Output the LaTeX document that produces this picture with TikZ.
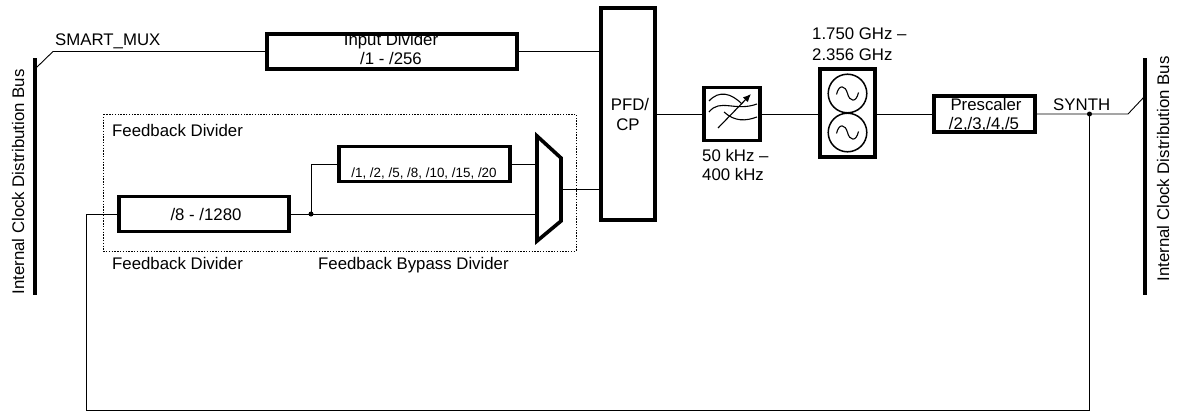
\documentclass[tikz,border=0pt]{standalone}
\usepackage{fontspec}
\setmainfont{Liberation Sans}
\usetikzlibrary{arrows.meta}
\begin{document}
\begin{tikzpicture}[x=1pt,y=-1pt,
 blk/.style={draw, line width=3.6pt, inner sep=0pt},
 wire/.style={line width=0.9pt},
 bus/.style={line width=4pt},
 txt/.style={inner sep=0pt, font=\fontsize{16.8}{20}\selectfont},
 small/.style={inner sep=0pt, font=\fontsize{13.4}{16}\selectfont},
 jdot/.style={circle, fill, inner sep=0pt, minimum size=5pt},
 sym/.style={line width=1.1pt}]
\useasboundingbox (0,0) rectangle (1177,415);

% buses
\coordinate (bLt) at (34.5,58);
\coordinate (bLb) at (34.5,295);
\coordinate (bRt) at (1144.5,58);
\coordinate (bRb) at (1144.5,295);
\draw[bus] (bLt) -- (bLb);
\draw[bus] (bRt) -- (bRb);
\node[txt, rotate=90, anchor=base] (labL) at (24,182) {Internal Clock Distribution Bus};
\node[txt, rotate=90, anchor=base] (labR) at (1169,169) {Internal Clock Distribution Bus};

% blocks
\node[blk, minimum width=250pt, minimum height=35pt] (indiv) at (392,51.5) {};
\node[txt, anchor=base] (indivT1) at (391,45) {Input Divider};
\node[txt, anchor=base] (indivT2) at (391,64) {/1 - /256};

\node[blk, minimum width=54pt, minimum height=212pt] (pfd) at (628,114) {};
\node[txt, anchor=base] (pfdT1) at (630,110) {PFD/};
\node[txt, anchor=base] (pfdT2) at (628,130) {CP};

\node[blk, minimum width=170pt, minimum height=35pt] (fbdiv) at (204,214) {};
\node[txt, anchor=base] (fbdivT) at (206,220) {/8 - /1280};

\node[blk, minimum width=171pt, minimum height=35pt] (byp) at (424.5,164) {};
\node[small, anchor=base] (bypT) at (424,177) {/1, /2, /5, /8, /10, /15, /20};

\node[blk, minimum width=56pt, minimum height=53pt] (filt) at (732,114) {};
\node[blk, minimum width=55pt, minimum height=88pt] (vco) at (847.5,113) {};
\node[blk, minimum width=101pt, minimum height=36pt] (presc) at (984.5,114) {};
\node[txt, anchor=base] (prescT1) at (986,110) {Prescaler};
\node[txt, anchor=base] (prescT2) at (984,129) {/2,/3,/4,/5};

% mux
\coordinate (m1) at (537,136);
\coordinate (m2) at (561,158);
\coordinate (m3) at (561,221);
\coordinate (m4) at (537,241);
\coordinate (mout) at (561,189);
\coordinate (minA) at (537,164);
\coordinate (minB) at (537,214);
\draw[line width=3.6pt, line join=miter] (m1) -- (m2) -- (m3) -- (m4) -- cycle;

% feedback dotted box
\draw[line width=0.8pt, dash pattern=on 1.4pt off 1.4pt] (103,114) rectangle (576,251);

% labels
\node[txt, anchor=base west] (smux) at (55,45) {SMART\_MUX};
\node[txt, anchor=base west] (fbin) at (112,136) {Feedback Divider};
\node[txt, anchor=base west] (fbout) at (112,269) {Feedback Divider};
\node[txt, anchor=base west] (fbbyp) at (318,269) {Feedback Bypass Divider};
\node[txt, anchor=base west] (vcoT1) at (812,39) {1.750 GHz --};
\node[txt, anchor=base west] (vcoT2) at (812,60) {2.356 GHz};
\node[txt, anchor=base west] (filtT1) at (702,161) {50 kHz --};
\node[txt, anchor=base west] (filtT2) at (702,180) {400 kHz};
\node[txt, anchor=base west] (synth) at (1053,110) {SYNTH};

% wires
\coordinate (sm1) at (36,68);
\coordinate (sm2) at (53,51.5);
\draw[wire] (sm1) -- (sm2) -- (indiv.west);
\draw[wire] (indiv.east) -- (indiv.east -| pfd.west);
\draw[wire] (mout) -- (mout -| pfd.west);
\draw[wire] (pfd.east |- filt.west) -- (filt.west);
\draw[wire] (filt.east) -- (filt.east -| vco.west);
\draw[wire] (vco.east |- presc.west) -- (presc.west);
\coordinate (jS) at (1089.5,114);
\coordinate (sy1) at (1128,114);
\coordinate (sy2) at (1144,97);
\draw[wire] (presc.east) -- (sy1) -- (sy2);
\node[jdot] (jSd) at (jS) {};
\coordinate (fbR) at (1089.5,410);
\coordinate (fbL) at (86,410);
\draw[wire] (jSd.center) -- (fbR) -- (fbL) -- (fbL |- fbdiv.west) -- (fbdiv.west);
\coordinate (jF) at (311,214);
\node[jdot] (jFd) at (jF) {};
\draw[wire] (fbdiv.east) -- (minB);
\draw[wire] (jFd.center) -- (jF |- byp.west) -- (byp.west);
\draw[wire] (byp.east) -- (minA);

% filter symbol
\draw[sym] (709,101) .. controls (719,90) and (731,93) .. (742,104);
\draw[sym] (709,112) .. controls (720,98) and (735,112) .. (757,104);
\draw[sym] (724,112) .. controls (735,122) and (746,121) .. (757,117);
\draw[sym, -{Latex[length=8pt,width=7pt]}] (718,128) -- (751,94);

% vco symbol
\foreach \cy in {93.5,132.5} {
  \draw[line width=1.5pt] (847.5,\cy) circle[radius=19.3];
  \draw[sym] (836.5,\cy+1) .. controls (839,\cy-10) and (845.5,\cy-8) .. (847.5,\cy)
    .. controls (849.5,\cy+8) and (856,\cy+10) .. (858.5,\cy-1);
}
\end{tikzpicture}
\end{document}
